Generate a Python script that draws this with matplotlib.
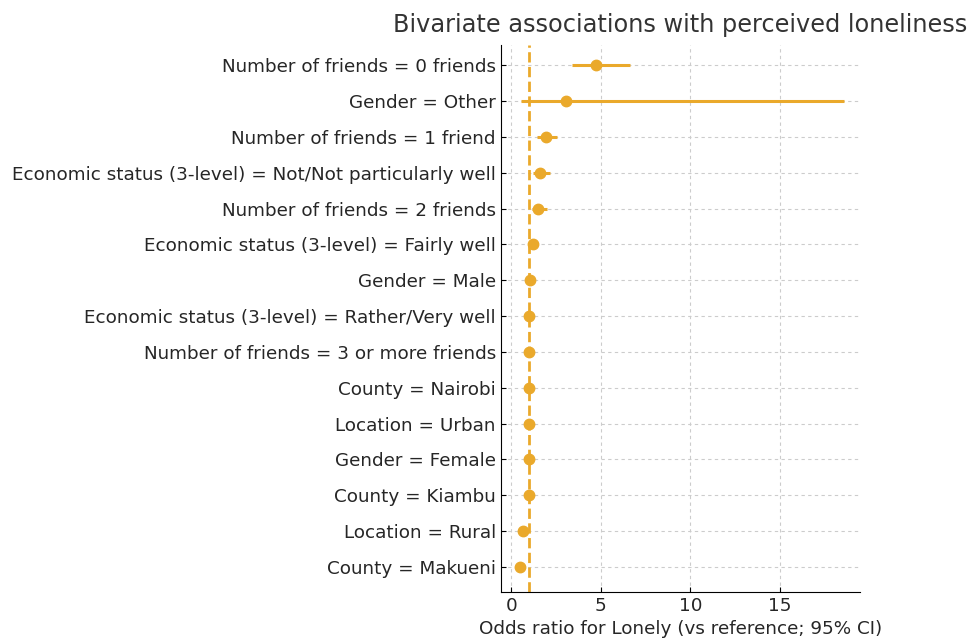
import numpy as np
import matplotlib
matplotlib.use("Agg")
import matplotlib.pyplot as plt

# odds ratios and 95% CI (top row first)
labels = [
    "Number of friends = 0 friends",
    "Gender = Other",
    "Number of friends = 1 friend",
    "Economic status (3-level) = Not/Not particularly well",
    "Number of friends = 2 friends",
    "Economic status (3-level) = Fairly well",
    "Gender = Male",
    "Economic status (3-level) = Rather/Very well",
    "Number of friends = 3 or more friends",
    "County = Nairobi",
    "Location = Urban",
    "Gender = Female",
    "County = Kiambu",
    "Location = Rural",
    "County = Makueni",
]
odds = [4.75, 3.07, 1.96, 1.58, 1.49, 1.21, 1.05, 1.0, 1.0, 1.0, 1.0, 1.0, 0.98, 0.65, 0.47]
ci_low = [3.41, 0.52, 1.45, 1.21, 1.15, 1.0, 0.85, 1.0, 1.0, 1.0, 1.0, 1.0, 0.8, 0.45, 0.32]
ci_high = [6.61, 18.57, 2.55, 2.14, 1.99, 1.47, 1.3, 1.0, 1.0, 1.0, 1.0, 1.0, 1.2, 0.93, 0.68]

color = "#EAA92B"
text_col = "#262626"

fig, ax = plt.subplots(figsize=(9.74, 6.4), dpi=100)
fig.subplots_adjust(left=0.514, right=0.883, top=0.93, bottom=0.075)

y = np.arange(len(labels))
odds = np.array(odds)
xerr = [odds - np.array(ci_low), np.array(ci_high) - odds]
ax.errorbar(odds, y, xerr=xerr, fmt="o", color=color, ecolor=color,
            elinewidth=2.2, markersize=7.5, capsize=0, zorder=3)
ax.axvline(1, color=color, linestyle="--", linewidth=2, zorder=2)

ax.set_yticks(y)
ax.set_yticklabels(labels, fontsize=13.2, color=text_col)
ax.set_ylim(14.7, -0.57)
ax.set_xticks([0, 5, 10, 15])
ax.tick_params(axis="x", labelsize=13.2, labelcolor=text_col, direction="in")
ax.tick_params(axis="y", direction="in")
ax.set_xlabel("Odds ratio for Lonely (vs reference; 95% CI)", fontsize=13.2, color=text_col)
ax.set_title("Bivariate associations with perceived loneliness", fontsize=17.3,
             color="#333333", pad=9)

ax.grid(True, linestyle=(0, (3, 3)), color="#cccccc", linewidth=0.8, zorder=0)
ax.spines["top"].set_visible(False)
ax.spines["right"].set_visible(False)

fig.savefig("out.png", dpi=100)
